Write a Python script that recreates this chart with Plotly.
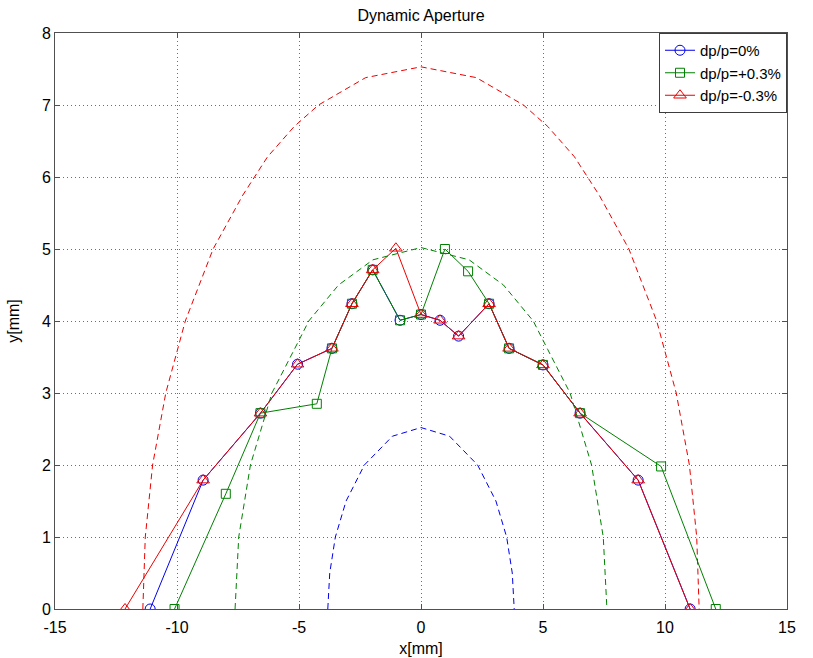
import plotly.graph_objects as go

# ---- data ----
series_names = ["dp/p=0%", "dp/p=+0.3%", "dp/p=-0.3%"]

x_dp0 = [-11.1, -8.93, -6.58, -5.06, -3.65, -2.83, -1.98, -0.86, 0.0, 0.78, 1.54, 2.79, 3.61, 5.0, 6.52, 8.9, 11.03]
y_dp0 = [0.0, 1.79, 2.72, 3.4, 3.62, 4.24, 4.71, 4.01, 4.09, 4.01, 3.79, 4.24, 3.62, 3.39, 2.72, 1.79, 0.0]

x_dpp = [-10.1, -8.0, -6.58, -4.27, -3.65, -2.83, -1.98, -0.86, 0.0, 0.98, 1.93, 2.79, 3.61, 5.0, 6.52, 9.84, 12.08]
y_dpp = [0.0, 1.6, 2.72, 2.85, 3.62, 4.24, 4.71, 4.01, 4.09, 5.0, 4.69, 4.24, 3.62, 3.39, 2.72, 1.98, 0.0]

x_dpm = [-12.13, -8.93, -6.58, -5.06, -3.65, -2.83, -1.98, -1.03, 0.0, 0.78, 1.54, 2.79, 3.61, 5.0, 6.52, 8.9, 11.03]
y_dpm = [0.0, 1.79, 2.72, 3.4, 3.62, 4.24, 4.71, 5.01, 4.09, 4.01, 3.79, 4.24, 3.62, 3.39, 2.72, 1.79, 0.0]

# dashed acceptance curves
x_ell0 = [-3.82, -3.74, -3.51, -3.07, -2.32, -1.17, 0.0, 1.17, 2.32, 3.07, 3.51, 3.74, 3.82]
y_ell0 = [0.0, 0.5, 1.0, 1.5, 2.0, 2.4, 2.52, 2.4, 2.0, 1.5, 1.0, 0.5, 0.0]

x_ellp = [-7.62, -7.47, -6.99, -6.11, -5.2, -4.6, -3.38, -1.97, 0.0, 1.97, 3.38, 4.6, 5.2, 6.11, 6.99, 7.47, 7.62]
y_ellp = [0.0, 1.0, 2.0, 3.0, 3.6, 4.0, 4.5, 4.85, 5.02, 4.85, 4.5, 4.0, 3.6, 3.0, 2.0, 1.0, 0.0]

x_ellm = [-11.4, -11.3, -11.0, -10.46, -9.66, -8.52, -7.3, -6.29, -5.2, -4.2, -2.27, 0.0, 2.27, 4.2, 5.2, 6.29, 7.3, 8.52, 9.66, 10.46, 11.0, 11.3, 11.4]
y_ellm = [0.0, 1.0, 2.0, 3.0, 4.0, 5.0, 5.75, 6.28, 6.7, 7.0, 7.38, 7.53, 7.38, 7.0, 6.7, 6.28, 5.75, 5.0, 4.0, 3.0, 2.0, 1.0, 0.0]

x_ticks = [-15, -10, -5, 0, 5, 10, 15]
x_ticklabels = ["-15", "-10", "-5", "0", "5", "10", "15"]
y_ticks = [0, 1, 2, 3, 4, 5, 6, 7, 8]
y_ticklabels = ["0", "1", "2", "3", "4", "5", "6", "7", "8"]

BLUE = "rgb(0,0,235)"
GREEN = "rgb(0,128,0)"
RED = "rgb(235,0,0)"
FONT = "Liberation Sans, Arial, sans-serif"
FS = 16

fig = go.Figure()

# main series (blue, green, red drawing order)
fig.add_trace(go.Scatter(x=x_dp0, y=y_dp0, mode="lines+markers", name=series_names[0],
                         line=dict(color=BLUE, width=1),
                         marker=dict(symbol="circle-open", size=10, color=BLUE, line=dict(width=1))))
fig.add_trace(go.Scatter(x=x_dpp, y=y_dpp, mode="lines+markers", name=series_names[1],
                         line=dict(color=GREEN, width=1),
                         marker=dict(symbol="square-open", size=9, color=GREEN, line=dict(width=1))))
fig.add_trace(go.Scatter(x=x_dpm, y=y_dpm, mode="lines+markers", name=series_names[2],
                         line=dict(color=RED, width=1),
                         marker=dict(symbol="triangle-up-open", size=11, color=RED, line=dict(width=1))))

# dashed curves
for xs, ys, c in [(x_ell0, y_ell0, BLUE), (x_ellp, y_ellp, GREEN), (x_ellm, y_ellm, RED)]:
    fig.add_trace(go.Scatter(x=xs, y=ys, mode="lines", showlegend=False, hoverinfo="skip",
                             line=dict(color=c, width=1, dash="6px,4px")))

axis_common = dict(
    showgrid=True, gridcolor="rgb(110,110,110)", gridwidth=1, griddash="1px,3px",
    zeroline=False, showline=True, linecolor="rgb(80,80,80)", linewidth=1, mirror="ticks",
    ticks="inside", ticklen=5, tickcolor="rgb(80,80,80)", automargin=False,
    tickfont=dict(family=FONT, size=FS, color="black"),
)

fig.update_xaxes(range=[-15, 15], tickmode="array", tickvals=x_ticks, ticktext=x_ticklabels,
                 ticklabelstandoff=4,
                 title=dict(text="x[mm]", font=dict(family=FONT, size=FS, color="black"), standoff=7),
                 **axis_common)
fig.update_yaxes(range=[0, 8], tickmode="array", tickvals=y_ticks, ticktext=y_ticklabels,
                 title=dict(text="y[mm]", font=dict(family=FONT, size=FS, color="black"), standoff=18),
                 **axis_common)

fig.update_layout(
    width=813, height=658,
    margin=dict(l=55, r=26, t=33, b=49),
    paper_bgcolor="white", plot_bgcolor="white",
    font=dict(family=FONT, size=FS, color="black"),
    title=dict(text="Dynamic Aperture", x=0.5, xref="paper", xanchor="center",
               y=1 - 15 / 658, yref="container", yanchor="middle",
               font=dict(family=FONT, size=FS, color="black")),
    legend=dict(x=1.0, y=1.0, xanchor="right", yanchor="top",
                bgcolor="white", bordercolor="rgb(60,60,60)", borderwidth=1,
                font=dict(family=FONT, size=15, color="black"),
                tracegroupgap=0, itemwidth=30, entrywidth=152, entrywidthmode="pixels"),
    showlegend=True,
)

fig.write_html("out.html")
